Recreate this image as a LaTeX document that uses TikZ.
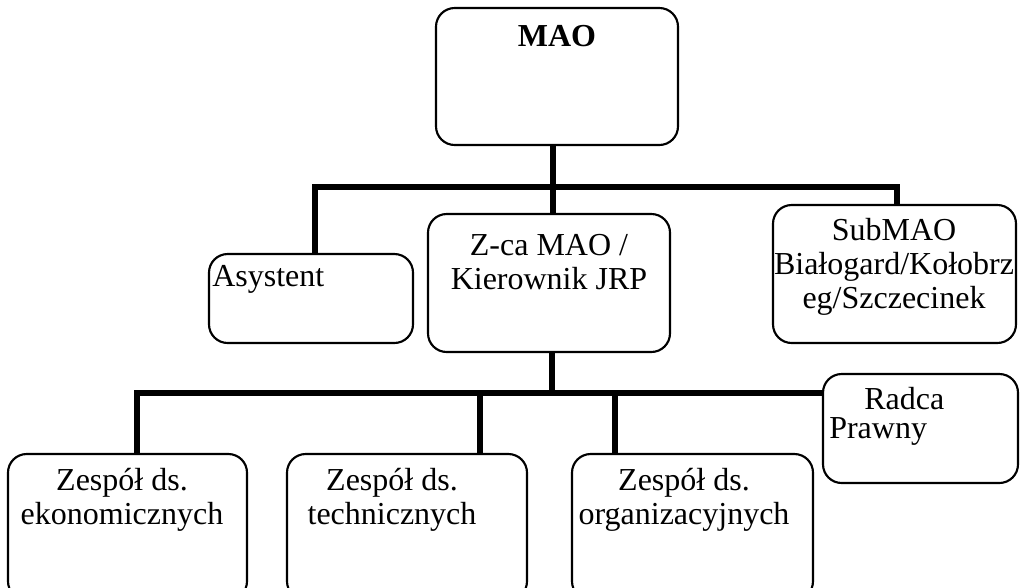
\documentclass[tikz,border=0pt]{standalone}
\usepackage{fontspec}
\setmainfont{Liberation Serif}
\begin{document}
\begin{tikzpicture}[x=0.75pt,y=-0.75pt,
  box/.style={draw=black,line width=1.6pt,rounded corners=14pt},
  conn/.style={line width=4.2pt},
  lbl/.style={inner sep=0pt,align=center,font=\fontsize{24}{25.5}\selectfont},
  lblL/.style={inner sep=0pt,align=left,font=\fontsize{24}{25.5}\selectfont}]
\useasboundingbox (0,0) rectangle (1020,587);
% boxes
\draw[box] (436,8) rectangle (678,145);
\draw[box] (209,254) rectangle (413,343);
\draw[box] (428,214) rectangle (670,352);
\draw[box] (773,205) rectangle (1016,343);
\draw[box] (823,374) rectangle (1018,483);
\draw[box] (8,454) rectangle (247,600);
\draw[box] (287,454) rectangle (527,600);
\draw[box] (572,454) rectangle (813,600);
\coordinate (maoB) at (553,145);
\coordinate (zcaT) at (553,214);
\coordinate (top) at (553,187);
\coordinate (asyT) at (315,254);
\coordinate (subT) at (897,205);
\coordinate (zcaB) at (552,352);
\coordinate (mid) at (552,393);
\coordinate (radL) at (823,393);
\coordinate (b1T) at (137,454);
\coordinate (b2T) at (480,454);
\coordinate (b3T) at (615,454);
% connectors
\draw[conn] (maoB) -- (zcaT);
\draw[conn] (asyT) |- (top) -| (subT);
\draw[conn] (zcaB) -- (mid);
\draw[conn] (b1T) |- (radL);
\draw[conn] (b2T) -- (b2T |- radL);
\draw[conn] (b3T) -- (b3T |- radL);
% texts
\node[lbl,font=\fontsize{24}{25.5}\selectfont\bfseries] (tmao) at (557,36) {MAO};
\node[lblL,anchor=west] (tasy) at (212,279) {Asystent};
\node[lbl] (tzca) at (549,262) {Z-ca MAO /\\Kierownik JRP};
\node[lbl] (tsub) at (894,267) {SubMAO\\Białogard/Kołobrz\\eg/Szczecinek};
\node[lblL,anchor=west] (tradca) at (864,399) {Radca};
\node[lblL,anchor=west] (tprawny) at (829,431) {Prawny};
\node[lbl] (tb1) at (122,500) {Zespół ds.\\ekonomicznych};
\node[lbl] (tb2) at (392,500) {Zespół ds.\\technicznych};
\node[lbl] (tb3) at (684,500) {Zespół ds.\\organizacyjnych};
\end{tikzpicture}
\end{document}
